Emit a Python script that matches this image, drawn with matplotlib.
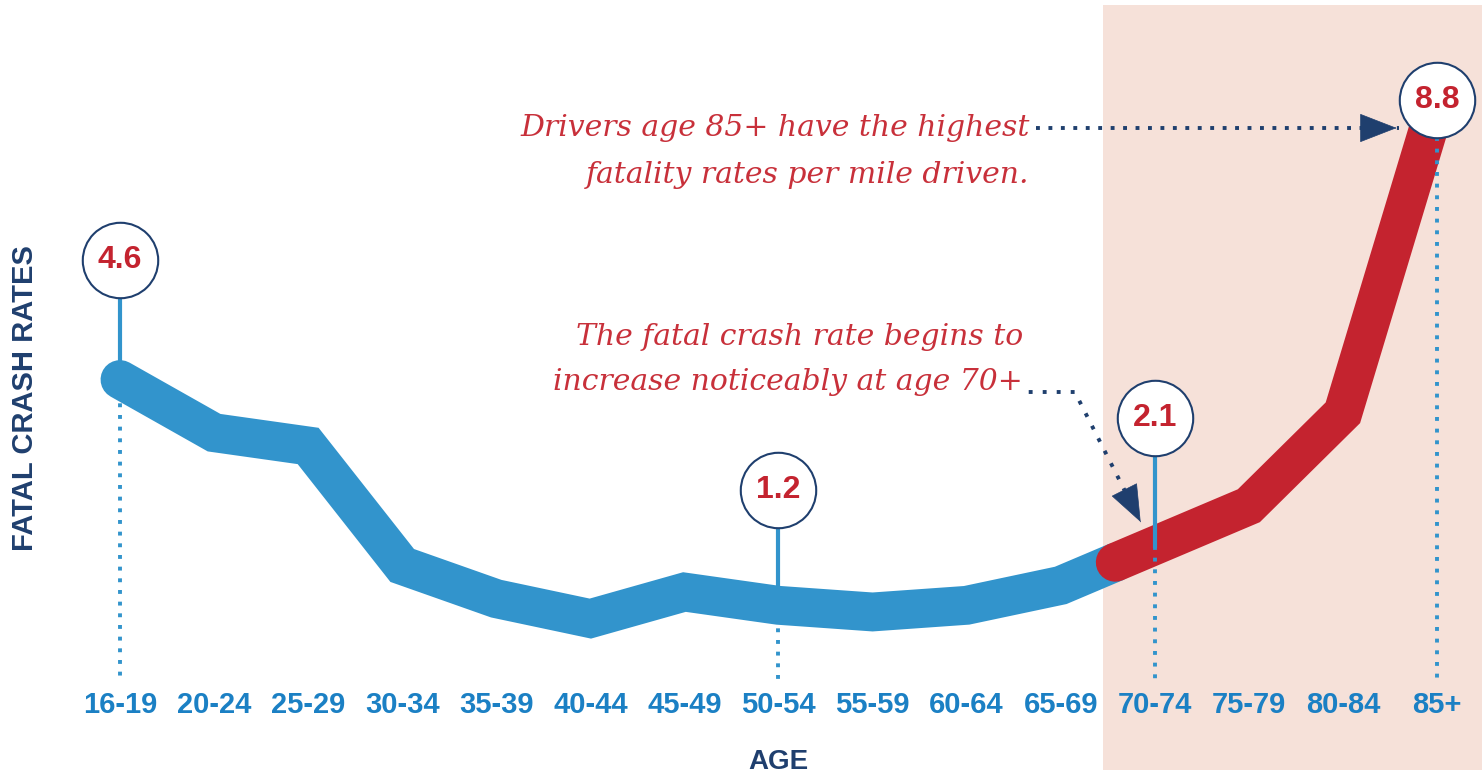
import matplotlib
matplotlib.use("Agg")
import matplotlib.pyplot as plt
import numpy as np

ages = ["16-19", "20-24", "25-29", "30-34", "35-39", "40-44", "45-49", "50-54",
        "55-59", "60-64", "65-69", "70-74", "75-79", "80-84", "85+"]
rates = [4.6, 3.8, 3.6, 1.8, 1.3, 1.0, 1.4, 1.2, 1.1, 1.2, 1.5, 2.1, 2.7, 4.1, 8.8]
callout_idx = [0, 7, 11, 14]
callout_text = ["4.6", "1.2", "2.1", "8.8"]

BLUE = "#3294cc"
LABEL_BLUE = "#1b80c4"
RED = "#c4232f"
NAVY = "#1f3f6e"
SHADE = "#f6e1d9"


def py(p):
    # pixel row -> data y
    return (685 - p) / 66.4


def arrow(ax, pts, gap):
    xs, ys = zip(*pts)
    ax.plot(xs, ys, color=NAVY, lw=2.8, ls=(0, (1, gap)), zorder=4)
    (x0, y0), (x1, y1) = pts[-2], pts[-1]
    ax.annotate("", xy=(x1, y1), xytext=(x1 - (x1 - x0) * 0.02, y1 - (y1 - y0) * 0.02),
                arrowprops=dict(arrowstyle="-|>,head_length=0.9,head_width=0.35",
                                color=NAVY, lw=0.5, mutation_scale=28), zorder=4)


def main():
    fig = plt.figure(figsize=(14.82, 7.73), dpi=100)
    ax = fig.add_axes([0, 0, 1, 1])
    # px -> data: x = 120 + 94.07*i, y = 685 - 66.4*v
    ax.set_xlim(-120 / 94.07, (1482 - 120) / 94.07)
    ax.set_ylim(py(773), py(0))
    ax.axis("off")

    x = np.arange(len(ages))
    y = np.array(rates)

    # shaded 70+ band
    ax.axvspan(10.45, x[-1] + 2, ymin=3 / 773, ymax=(773 - 5) / 773,
               color=SHADE, zorder=0, lw=0)

    # split point between 65-69 and 70-74
    t = 0.58
    sx = x[10] + t
    sy = y[10] + t * (y[11] - y[10])
    lw = 28
    ax.plot(list(x[:11]) + [sx], list(y[:11]) + [sy], color=BLUE, lw=lw,
            solid_capstyle="round", solid_joinstyle="miter", zorder=2)
    ax.plot([sx] + list(x[11:]), [sy] + list(y[11:]), color=RED, lw=lw,
            solid_capstyle="round", solid_joinstyle="miter", zorder=3)

    # callouts
    circle_y = {0: py(260), 7: py(490), 11: py(418), 14: py(100)}
    r = 37 / 66.4
    for i, txt in zip(callout_idx, callout_text):
        cy = circle_y[i]
        if i == 14:
            ax.plot([x[i], x[i]], [cy - r, 0.08], color=BLUE, lw=2.8,
                    ls=(0, (1, 2)), zorder=4)
        else:
            ax.plot([x[i], x[i]], [cy - r, y[i]], color=BLUE, lw=3, zorder=4)
            ax.plot([x[i], x[i]], [y[i], 0.08], color=BLUE, lw=2.8,
                    ls=(0, (1, 2)), zorder=1 if i != 11 else 4)
        ax.scatter([x[i]], [cy], s=2950, facecolor="white", edgecolor=NAVY,
                   linewidth=1.5, zorder=5)
        ax.text(x[i], cy, txt, ha="center", va="center", color=RED,
                fontsize=23, fontweight="bold", family="Liberation Sans", zorder=6)

    # tick labels
    for xi, lab in zip(x, ages):
        ax.text(xi, py(705), lab, ha="center", va="center", color=LABEL_BLUE,
                fontsize=21, fontweight="bold", family="Liberation Sans")

    ax.text(7, py(762), "AGE", ha="center", va="center", color=NAVY,
            fontsize=20, fontweight="bold", family="Liberation Sans")
    fig.text(25 / 1482, 1 - 398 / 773, "FATAL CRASH RATES", rotation=90,
             ha="center", va="center", color=NAVY, fontsize=21,
             fontweight="bold", family="Liberation Sans")

    # annotations
    note_kw = dict(color="#c8303a", fontsize=21.5, style="italic",
                   family="DejaVu Serif", ha="right", va="center")
    ax.text(9.67, py(128), "Drivers age 85+ have the highest", **note_kw)
    ax.text(9.67, py(175), "fatality rates per mile driven.", **note_kw)
    arrow(ax, [(9.74, py(128)), (13.6, py(128))], 2.2)

    ax.text(9.6, py(337), "The fatal crash rate begins to", **note_kw)
    ax.text(9.6, py(382), "increase noticeably at age 70+", **note_kw)
    arrow(ax, [(9.66, py(392)), (10.15, py(392)), (10.85, py(522))], 2.6)

    fig.savefig("out.png", dpi=100)


if __name__ == "__main__":
    main()
